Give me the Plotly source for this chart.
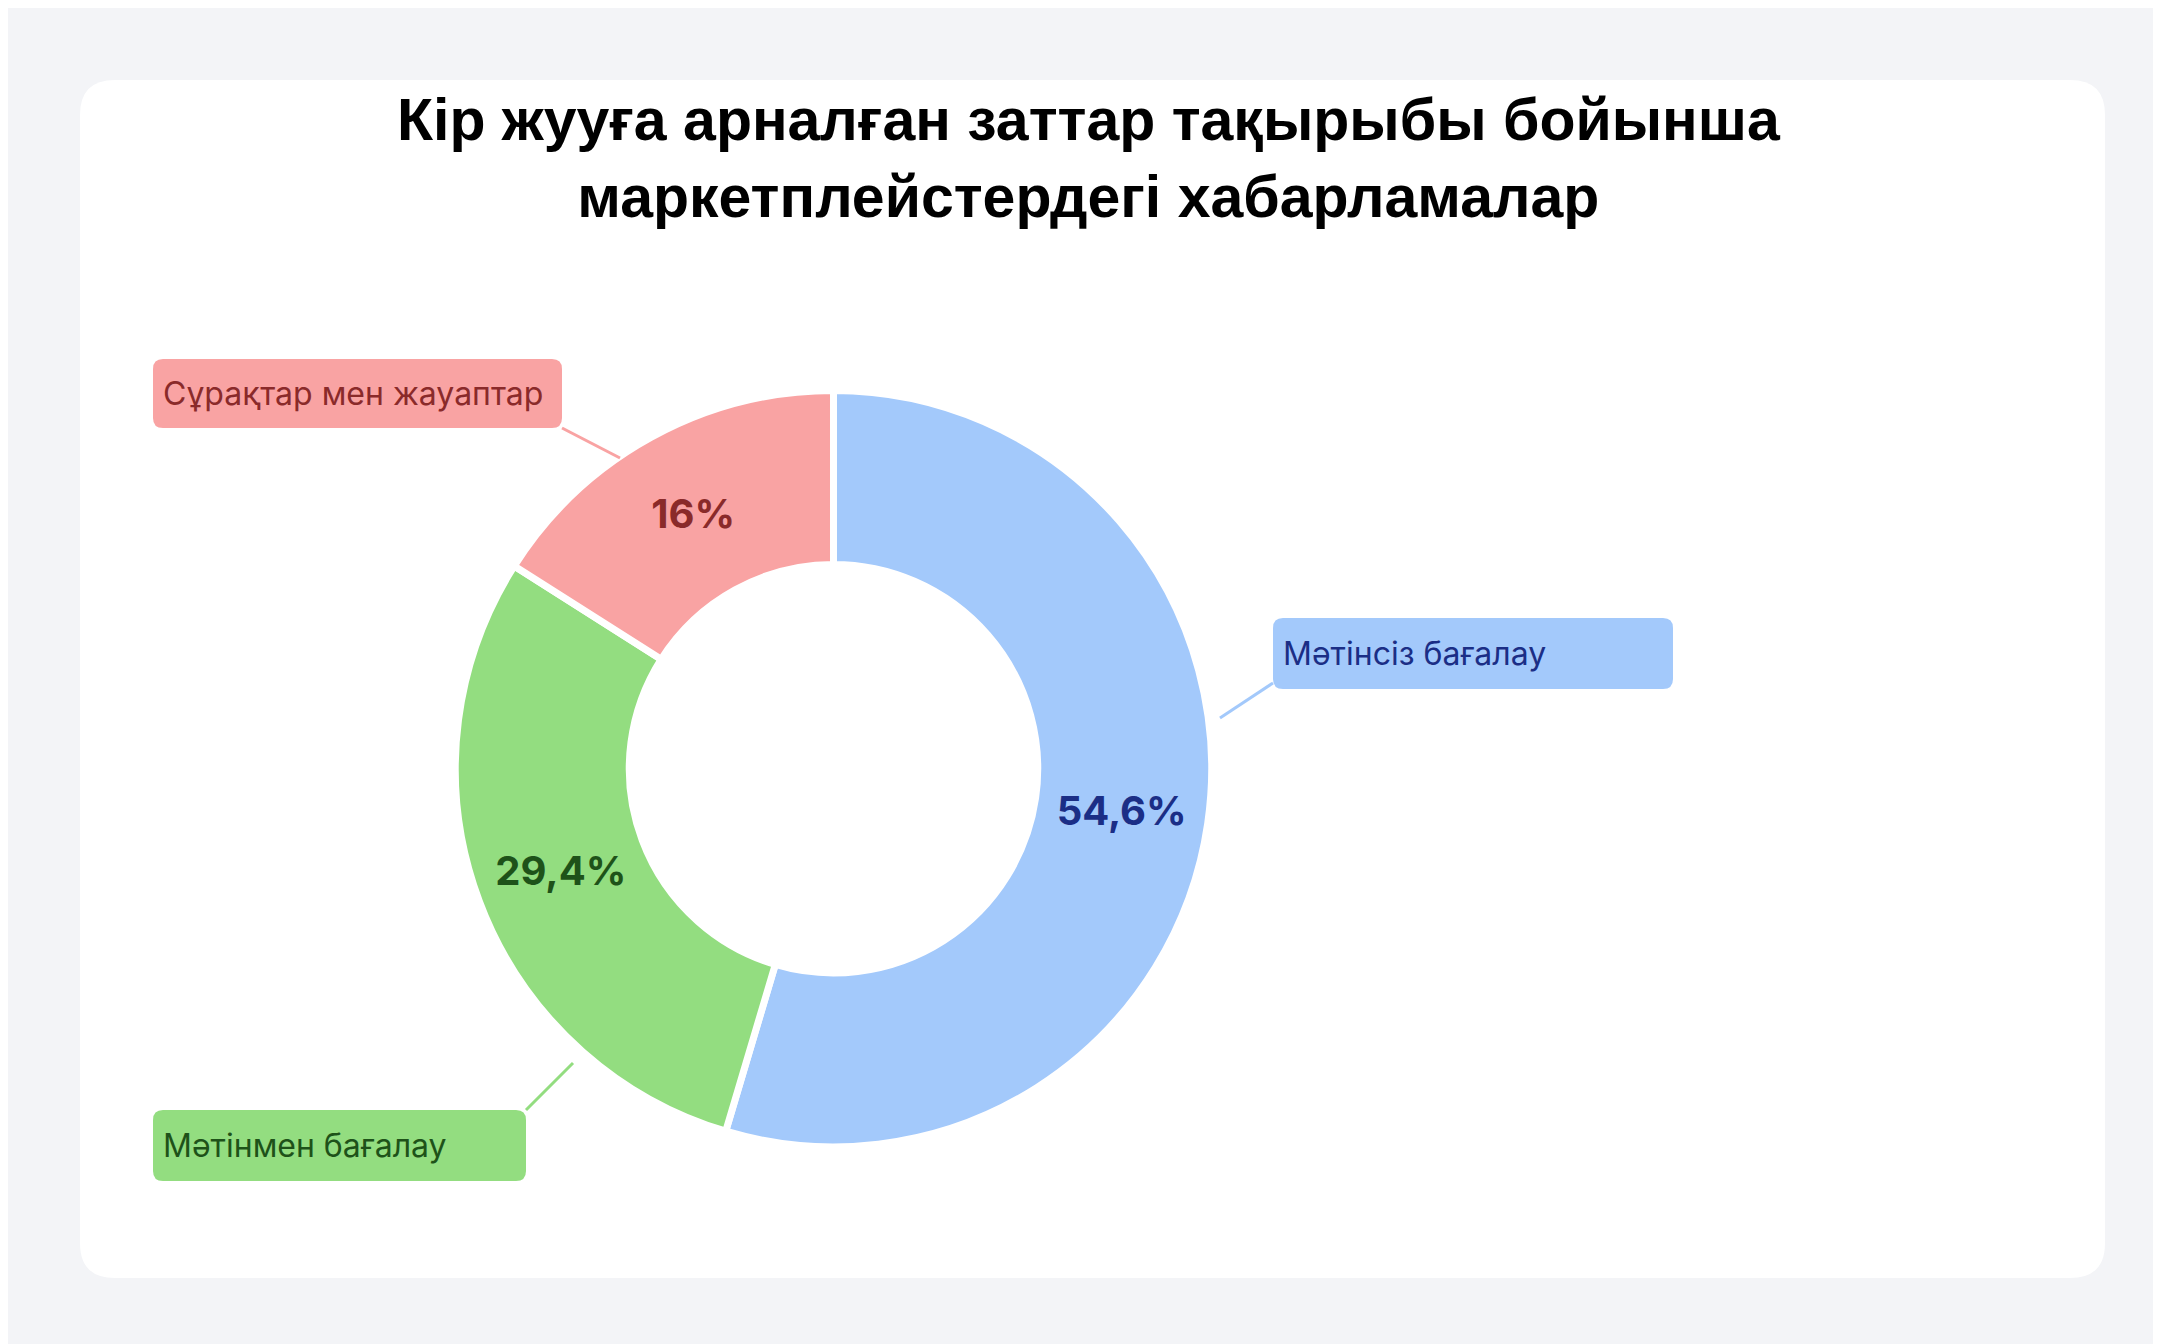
import plotly.graph_objects as go

categories = ["Мәтінсіз бағалау", "Мәтінмен бағалау", "Сұрақтар мен жауаптар"]
values = [54.6, 29.4, 16.0]
pct_labels = ["<b>54,6%</b>", "<b>29,4%</b>", "<b>16%</b>"]
slice_colors = ["#a3c9fb", "#93dd80", "#f9a3a3"]
text_colors = ["#1b2e86", "#1e5219", "#8a2a2a"]

W, H = 2161, 1344
fig = go.Figure(go.Pie(
    labels=categories, values=values, text=pct_labels,
    textinfo="text", textposition="inside", insidetextorientation="horizontal",
    hole=0.54, sort=False, direction="clockwise", rotation=0,
    marker=dict(colors=slice_colors, line=dict(color="white", width=7)),
    textfont=dict(size=40, color=text_colors, family="Inter"),
    domain=dict(x=[0.207, 0.557], y=[0.152, 0.716]),
    showlegend=False, hoverinfo="skip"))

def px(x): return x / W
def py(y): return 1 - y / H

shapes = [
    dict(type="rect", xref="paper", yref="paper", x0=0, x1=1, y0=0, y1=1,
         fillcolor="#f3f4f7", line=dict(width=0), layer="below"),
]
r = 35; x0, y0, x1, y1 = 72, 72, 2097, 1270
path = (f"M {px(x0+r)},{py(y0)} L {px(x1-r)},{py(y0)} Q {px(x1)},{py(y0)} {px(x1)},{py(y0+r)} "
        f"L {px(x1)},{py(y1-r)} Q {px(x1)},{py(y1)} {px(x1-r)},{py(y1)} L {px(x0+r)},{py(y1)} "
        f"Q {px(x0)},{py(y1)} {px(x0)},{py(y1-r)} L {px(x0)},{py(y0+r)} Q {px(x0)},{py(y0)} {px(x0+r)},{py(y0)} Z")
shapes.append(dict(type="path", xref="paper", yref="paper", path=path,
                   fillcolor="white", line=dict(width=0), layer="below"))

boxes = [
    (1265, 610, 1665, 681, "#a3c9fb", "#1b2e86", categories[0], (1265, 675, 1212, 710)),
    (145, 1102, 518, 1173, "#93dd80", "#1e5219", categories[1], (518, 1102, 565, 1055)),
    (145, 351, 554, 420, "#f9a3a3", "#8a2a2a", categories[2], (554, 420, 612, 450)),
]
annotations = [dict(
    text="<b>Кір жууға арналған заттар тақырыбы бойынша<br>маркетплейстердегі хабарламалар</b>",
    x=0.5, y=py(150), xref="paper", yref="paper", showarrow=False,
    font=dict(size=59, color="black", family="Liberation Sans"), xanchor="center", yanchor="middle")]
for bx0, by0, bx1, by1, fill, tc, label, (lx0, ly0, lx1, ly1) in boxes:
    rr = 10
    p = (f"M {px(bx0+rr)},{py(by0)} L {px(bx1-rr)},{py(by0)} Q {px(bx1)},{py(by0)} {px(bx1)},{py(by0+rr)} "
         f"L {px(bx1)},{py(by1-rr)} Q {px(bx1)},{py(by1)} {px(bx1-rr)},{py(by1)} L {px(bx0+rr)},{py(by1)} "
         f"Q {px(bx0)},{py(by1)} {px(bx0)},{py(by1-rr)} L {px(bx0)},{py(by0+rr)} Q {px(bx0)},{py(by0)} {px(bx0+rr)},{py(by0)} Z")
    shapes.append(dict(type="path", xref="paper", yref="paper", path=p, fillcolor=fill, line=dict(width=0)))
    shapes.append(dict(type="line", xref="paper", yref="paper", x0=px(lx0), y0=py(ly0), x1=px(lx1), y1=py(ly1),
                       line=dict(color=fill, width=3)))
    annotations.append(dict(text=label, x=px(bx0 + 8), y=py((by0 + by1) / 2), xref="paper", yref="paper",
                            showarrow=False, xanchor="left", yanchor="middle",
                            font=dict(size=32, color=tc, family="Inter")))

fig.update_layout(width=W, height=H, margin=dict(l=0, r=0, t=0, b=0),
                  paper_bgcolor="#f3f4f7", plot_bgcolor="white",
                  shapes=shapes, annotations=annotations)
fig.write_html("out.html")
